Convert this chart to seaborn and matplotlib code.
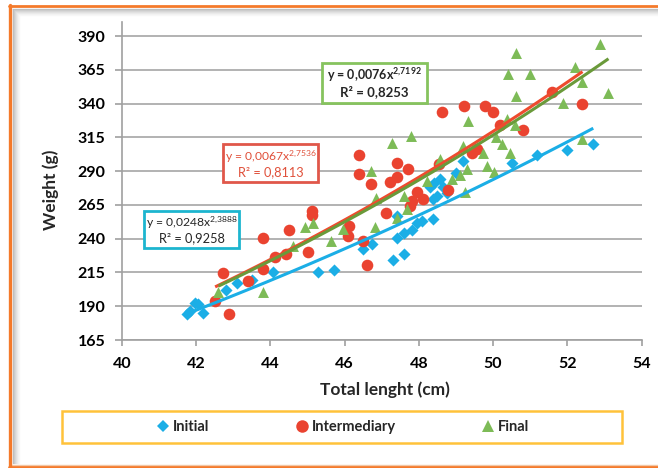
import numpy as np
import pandas as pd
import matplotlib
matplotlib.use('Agg')
import matplotlib.pyplot as plt
from matplotlib.patches import Rectangle
from matplotlib.lines import Line2D
import seaborn as sns

# Values
initial_length = [41.74, 41.83, 41.97, 42.06, 42.19, 42.80, 43.11, 43.50, 44.08, 45.29,
                  45.70, 46.50, 46.73, 47.30, 47.60, 47.40, 47.60, 47.81, 47.94, 48.09,
                  48.39, 47.40, 48.39, 48.48, 48.66, 48.75, 48.41, 48.57, 49.00, 49.20,
                  50.50, 51.19, 51.99, 52.70, 48.30]
initial_weight = [184.2, 186.7, 192.4, 191.6, 185.0, 202.2, 206.9, 209.3, 215.0, 215.0,
                  216.7, 232.2, 235.9, 224.4, 228.5, 240.3, 244.5, 246.2, 251.9, 253.1,
                  254.3, 256.5, 269.1, 271.5, 277.9, 274.0, 280.9, 283.8, 288.7, 297.8,
                  296.1, 302.2, 305.9, 310.1, 278.6]

inter_length = [42.51, 42.71, 42.89, 43.40, 43.81, 43.81, 44.11, 44.41, 44.51, 45.00,
                45.11, 45.11, 46.13, 46.10, 46.50, 46.60, 46.40, 46.40, 46.70, 47.22,
                47.40, 47.40, 47.72, 47.12, 47.81, 47.76, 48.12, 47.96, 48.79, 48.53,
                48.62, 49.22, 49.78, 50.01, 49.43, 49.56, 50.19, 50.80, 51.59, 52.41]
inter_weight = [194.1, 214.5, 184.2, 208.4, 217.4, 240.3, 226.8, 228.5, 246.2, 230.3,
                260.4, 257.6, 249.4, 242.0, 238.3, 220.4, 302.2, 288.2, 280.1, 282.3,
                286.0, 296.1, 291.7, 258.7, 267.8, 264.1, 269.6, 274.4, 276.1, 294.9,
                333.7, 338.0, 338.2, 333.7, 303.5, 306.7, 324.4, 320.2, 348.2, 339.9]

final_length = [42.60, 43.81, 44.62, 44.93, 45.16, 45.63, 45.96, 46.85, 46.83, 47.40,
                47.60, 47.68, 48.21, 46.70, 47.28, 47.78, 48.58, 48.89, 49.11, 49.30,
                49.25, 49.20, 49.33, 49.74, 49.83, 50.03, 50.09, 50.23, 50.45, 50.38,
                50.59, 50.61, 50.40, 51.00, 50.61, 51.88, 52.20, 52.40, 52.41, 52.89,
                53.11]
final_weight = [200.3, 200.8, 234.6, 248.8, 251.4, 238.3, 247.3, 270.2, 248.8, 255.6,
                271.6, 262.1, 282.6, 290.1, 310.9, 315.7, 298.6, 283.8, 286.8, 291.9,
                274.4, 308.4, 327.2, 303.5, 293.6, 289.0, 315.1, 310.2, 303.5, 328.3,
                324.4, 345.8, 361.6, 361.6, 377.7, 340.6, 367.1, 356.1, 313.8, 384.1,
                348.0]

# power trendline coefficients shown on the chart: y = a * x^b
trend_a = [0.0248, 0.0067, 0.0076]
trend_b = [2.3888, 2.7536, 2.7192]
trend_r2 = ['0,9258', '0,8113', '0,8253']

series_names = ['Initial', 'Intermediary', 'Final']
colors = ['#1BAEE6', '#EA4330', '#7DBB57']
line_colors = ['#1BAEE6', '#EE4B2E', '#6A9A3A']
box_colors = ['#1DB5CF', '#E0574A', '#86C35E']

df = pd.concat([
    pd.DataFrame({'length': initial_length, 'weight': initial_weight, 'stage': 'Initial'}),
    pd.DataFrame({'length': inter_length, 'weight': inter_weight, 'stage': 'Intermediary'}),
    pd.DataFrame({'length': final_length, 'weight': final_weight, 'stage': 'Final'}),
])

sns.set_style('white')
plt.rcParams['font.family'] = ['Lato', 'DejaVu Sans']
plt.rcParams['mathtext.default'] = 'regular'

W, H = 658, 468
fig = plt.figure(figsize=(W / 100, H / 100), dpi=100)
fig.patch.set_facecolor('white')


def fx(x):
    return x / W


def fy(y):
    return 1 - y / H


# frame: orange border and soft gray shadow
for i, g in enumerate(['#BDBDBD', '#CACACA', '#D6D6D6', '#E0E0E0', '#E9E9E9', '#F1F1F1', '#F7F7F7']):
    fig.add_artist(Line2D([fx(13 + i), fx(13 + i)], [fy(9 + i), fy(463)], color=g, lw=1.0,
                          transform=fig.transFigure))
    fig.add_artist(Line2D([fx(13 + i), 1], [fy(9 + i), fy(9 + i)], color=g, lw=1.0,
                          transform=fig.transFigure))
fig.add_artist(Line2D([fx(12), 1], [fy(464.5), fy(464.5)], color='#F2C7A6', lw=1.0,
                      transform=fig.transFigure))
fig.add_artist(Line2D([fx(9.5), fx(9.5)], [fy(5), fy(468)], color='#F47A2B', lw=2.4,
                      transform=fig.transFigure))
fig.add_artist(Line2D([fx(8.5), 1], [fy(6), fy(6)], color='#F47A2B', lw=2.0,
                      transform=fig.transFigure))
fig.add_artist(Line2D([fx(8.5), 1], [fy(466.8), fy(466.8)], color='#F47A2B', lw=2.0,
                      transform=fig.transFigure))

ax = fig.add_axes([fx(122), fy(340), fx(641.5) - fx(122), (340 - 22.5) / H])
ax.set_facecolor('none')

markers = {'Initial': 'D', 'Intermediary': 'o', 'Final': '^'}
sizes = {'Initial': 38, 'Intermediary': 70, 'Final': 62}
for name, col in zip(series_names, colors):
    sub = df[df['stage'] == name]
    sns.scatterplot(data=sub, x='length', y='weight', marker=markers[name], s=sizes[name],
                    color=col, edgecolor=col, linewidth=0, ax=ax, zorder=3, legend=False)

# trendlines
lengths = [initial_length, inter_length, final_length]
for xs, a, b, lc in zip(lengths, trend_a, trend_b, line_colors):
    xx = np.linspace(min(xs), max(xs), 100)
    ax.plot(xx, a * xx ** b, color=lc, lw=2.2, zorder=4, solid_capstyle='butt')

ax.set_xlim(40, 54)
ax.set_ylim(165, 400)
ax.set_xticks(range(40, 55, 2))
ax.set_yticks(range(165, 391, 25))
ax.grid(axis='y', color='#A6A6A6', lw=1.2)
ax.grid(axis='x', visible=False)
ax.set_axisbelow(True)
for side in ['top', 'right']:
    ax.spines[side].set_visible(False)
for side in ['left', 'bottom']:
    ax.spines[side].set_color('#A0A0A0')
    ax.spines[side].set_linewidth(1.2)
ax.tick_params(axis='both', which='major', direction='out', color='#A0A0A0', width=1.2,
               labelsize=11.5, labelcolor='black')
ax.tick_params(axis='y', length=5, pad=7, left=True)
ax.tick_params(axis='x', length=4, pad=8, bottom=True)
for lbl in ax.get_xticklabels() + ax.get_yticklabels():
    lbl.set_fontweight('bold')
ax.set_xlabel('')
ax.set_ylabel('')

fig.text(fx(385), fy(390), 'Total lenght (cm)', ha='center', va='center', fontsize=12.5,
         fontweight='bold')
fig.text(fx(51), fy(190), 'Weight (g)', ha='center', va='center', fontsize=12.5,
         fontweight='bold', rotation=90)

# equation boxes
boxes = [(144, 211, 239.3, 248.3), (222.7, 144.3, 318.3, 182.3), (321.7, 62.7, 426.7, 102.7)]
text_colors = ['#262626', '#E0503A', '#262626']
weights = ['normal', 'normal', 'bold']
sizes_eq = [8.7, 8.7, 9.0]
for (x0, y0, x1, y1), a, b, r2, bc, tc, fw, fs in zip(boxes, trend_a, trend_b, trend_r2,
                                                       box_colors, text_colors, weights,
                                                       sizes_eq):
    fig.add_artist(Rectangle((fx(x0), fy(y1)), fx(x1 - x0), (y1 - y0) / H, fill=True,
                             facecolor='white', edgecolor=bc, lw=2.0,
                             transform=fig.transFigure, zorder=5))
    cx = (x0 + x1) / 2
    a_txt = f'{a:.4f}'.replace('.', ',')
    b_txt = f'{b:.4f}'.replace('.', '{,}')
    fig.text(fx(cx), fy(y0 + (y1 - y0) * 0.32), f'y = {a_txt}x$^{{{b_txt}}}$', ha='center',
             va='center', fontsize=fs, color=tc, fontweight=fw, zorder=6)
    fig.text(fx(cx), fy(y0 + (y1 - y0) * 0.72), f'R² = {r2}', ha='center', va='center',
             fontsize=fs + 0.5, color=tc, fontweight=fw, zorder=6)

# legend
fig.add_artist(Rectangle((fx(62), fy(442.7)), fx(560), 32 / H, fill=False,
                         edgecolor='#FFC23A', lw=1.8, transform=fig.transFigure))
handles = [Line2D([], [], ls='none', marker=markers[n], color=c, markersize=ms,
                  markeredgewidth=0)
           for n, c, ms in zip(series_names, colors, [6.5, 9, 8.5])]
leg = fig.legend(handles, series_names, loc='center', bbox_to_anchor=(fx(344), fy(427)),
                 ncol=3, frameon=False, handlelength=0.6, handletextpad=0.4,
                 columnspacing=6.0, prop={'weight': 'bold', 'size': 10.5})

fig.savefig('out.png', dpi=100)
